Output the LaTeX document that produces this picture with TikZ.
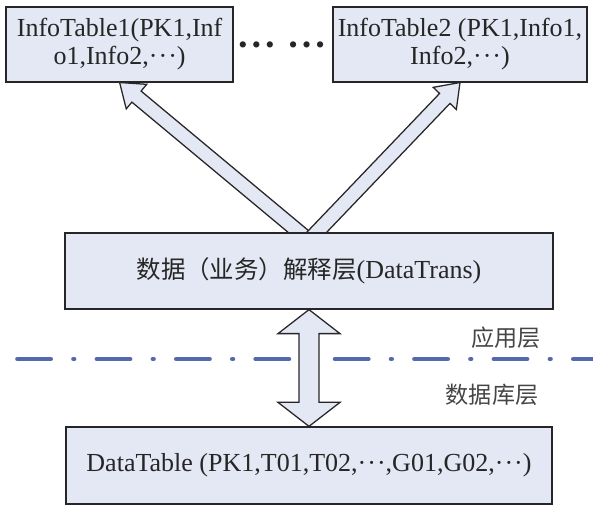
\documentclass[tikz,border=0pt]{standalone}
\usepackage{fontspec}
\setmainfont{Liberation Serif}
\newfontfamily\cjk{Noto Sans CJK SC}[Scale=0.94]
\usetikzlibrary{calc,shadows}
\definecolor{FigureInk}{HTML}{262626}
\definecolor{BoxFill}{HTML}{E4E7F4}
\definecolor{LayerLine}{HTML}{5468AE}
\definecolor{NoteInk}{HTML}{454545}
\pgfdeclarelayer{back}
\pgfsetlayers{back,main}
\newcommand{\middots}{·\kern0.04em·\kern0.04em·}
\tikzset{
  figure/.style={text=FigureInk,font=\fontsize{18.5}{20}\selectfont},
  tablebox/.style={draw=FigureInk,line width=0.9pt,fill=BoxFill,align=center,inner sep=0pt,
    drop shadow={shadow xshift=0.9pt,shadow yshift=-0.9pt,fill=FigureInk,opacity=1}},
  note/.style={text=NoteInk,font=\fontsize{17.5}{20}\selectfont\cjk},
  layerline/.style={draw=LayerLine,line width=3.5pt,line cap=round,
    dash pattern=on 0.825cm off 0.575cm on 0.01cm off 0.575cm},
  % hollow block arrow: shaft half width, head half width, head length
  hollow/.style n args={3}{draw=FigureInk,fill=BoxFill,line width=0.9pt,
    to path={($(\tikztostart)!#1!90:(\tikztotarget)$)
      -- ($(\tikztotarget)!#3!(\tikztostart)!#1!90:(\tikztotarget)$)
      -- ($(\tikztotarget)!#3!(\tikztostart)!#2!90:(\tikztotarget)$)
      -- (\tikztotarget)
      -- ($(\tikztotarget)!#3!(\tikztostart)!#2!-90:(\tikztotarget)$)
      -- ($(\tikztotarget)!#3!(\tikztostart)!#1!-90:(\tikztotarget)$)
      -- ($(\tikztostart)!#1!-90:(\tikztotarget)$) -- cycle}},
  twoway/.style n args={3}{draw=FigureInk,fill=BoxFill,line width=0.9pt,
    to path={(\tikztostart)
      -- ($(\tikztostart)!#3!(\tikztotarget)!#2!90:(\tikztotarget)$)
      -- ($(\tikztostart)!#3!(\tikztotarget)!#1!90:(\tikztotarget)$)
      -- ($(\tikztotarget)!#3!(\tikztostart)!#1!90:(\tikztotarget)$)
      -- ($(\tikztotarget)!#3!(\tikztostart)!#2!90:(\tikztotarget)$)
      -- (\tikztotarget)
      -- ($(\tikztotarget)!#3!(\tikztostart)!#2!-90:(\tikztotarget)$)
      -- ($(\tikztotarget)!#3!(\tikztostart)!#1!-90:(\tikztotarget)$)
      -- ($(\tikztostart)!#3!(\tikztotarget)!#1!-90:(\tikztotarget)$)
      -- ($(\tikztostart)!#3!(\tikztotarget)!#2!-90:(\tikztotarget)$)
      -- cycle}},
}
\begin{document}
\begin{tikzpicture}[figure]
  \useasboundingbox (0,0) rectangle (14.825,12.65);

  \node[tablebox,minimum width=5.675cm,minimum height=1.875cm] (info1) at (2.99,11.54)
    {InfoTable1(PK1,Inf\\o1,Info2,\middots)};
  \node[tablebox,minimum width=6.35cm,minimum height=1.875cm] (info2) at (11.5,11.54)
    {InfoTable2 (PK1,Info1,\\Info2,\middots)};
  \node (more) at (7.04,11.45) {•\,•\,•\hspace{0.55em}•\,•\,•};

  \node[tablebox,minimum width=12.2cm,minimum height=1.9cm] (trans) at (7.725,5.875)
    {{\cjk 数据（业务）解释层}(DataTrans)};
  \node[tablebox,minimum width=12.15cm,minimum height=1.925cm] (data) at (7.725,1.0125)
    {DataTable (PK1,T01,T02,\middots,G01,G02,\middots)};

  \draw[layerline] (0.44,3.675) -- (14.825,3.675);
  \node[note] (app) at (12.65,4.2) {应用层};
  \node[note] (db) at (12.3,2.775) {数据库层};

  \coordinate (hub) at ([yshift=-0.2cm]trans.north);
  \begin{pgfonlayer}{back}
    \draw[hollow={0.18cm}{0.4cm}{0.55cm}] (hub) to (info1.south);
    \draw[hollow={0.18cm}{0.4cm}{0.55cm}] (hub) to (info2.south);
  \end{pgfonlayer}
  \draw[twoway={0.25cm}{0.775cm}{0.6cm}] (trans.south) to (data.north);
\end{tikzpicture}
\end{document}
